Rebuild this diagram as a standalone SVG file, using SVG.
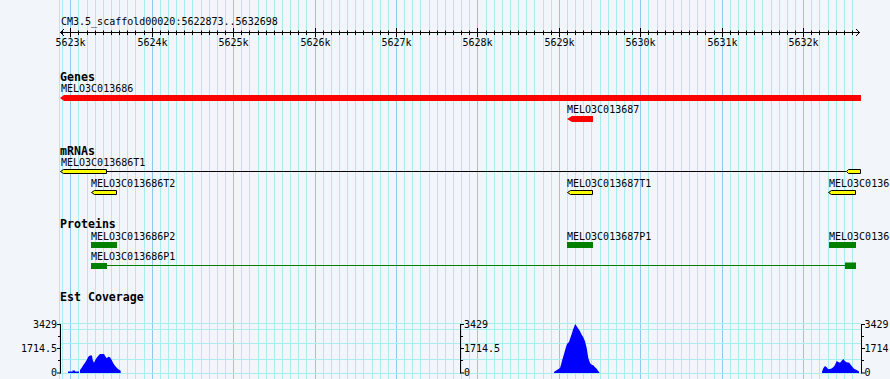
<svg xmlns="http://www.w3.org/2000/svg" width="890" height="379" viewBox="0 0 890 379">
<style>
.bg{fill:#f2f5fa}
.gm{stroke:#a6eef0;stroke-width:1}
.gM{stroke:#8ccbee;stroke-width:1}
.t{font-family:"DejaVu Sans Mono","Liberation Mono",monospace;font-size:10px;fill:#000}
.h{font-family:"DejaVu Sans Mono","Liberation Mono",monospace;font-size:11.6px;font-weight:bold;fill:#000}
.ax{stroke:#000;stroke-width:1;fill:none}
.gene{fill:#ff0000}
.mrna{fill:#ffff00;stroke:#000;stroke-width:1}
.prot{fill:#008000}
.intr{stroke:#000;stroke-width:1}
.pintr{stroke:#008000;stroke-width:1}
.cov{fill:#0000ff}
.hg{stroke:#a6eef0;stroke-width:1}
</style>
<rect class="bg" x="0" y="0" width="890" height="379"/>
<g id="grid">
<path class="gm" d="M59.5 0V379M62.5 0V379M78.5 0V379M87.5 0V379M95.5 0V379M103.5 0V379M111.5 0V379M119.5 0V379M127.5 0V379M135.5 0V379M144.5 0V379M160.5 0V379M168.5 0V379M176.5 0V379M184.5 0V379M192.5 0V379M201.5 0V379M209.5 0V379M217.5 0V379M225.5 0V379M241.5 0V379M249.5 0V379M258.5 0V379M266.5 0V379M274.5 0V379M282.5 0V379M290.5 0V379M298.5 0V379M306.5 0V379M323.5 0V379M331.5 0V379M339.5 0V379M347.5 0V379M355.5 0V379M363.5 0V379M372.5 0V379M380.5 0V379M388.5 0V379M404.5 0V379M412.5 0V379M420.5 0V379M429.5 0V379M437.5 0V379M445.5 0V379M453.5 0V379M461.5 0V379M469.5 0V379M486.5 0V379M494.5 0V379M502.5 0V379M510.5 0V379M518.5 0V379M526.5 0V379M534.5 0V379M543.5 0V379M551.5 0V379M567.5 0V379M575.5 0V379M583.5 0V379M591.5 0V379M600.5 0V379M608.5 0V379M616.5 0V379M624.5 0V379M632.5 0V379M648.5 0V379M657.5 0V379M665.5 0V379M673.5 0V379M681.5 0V379M689.5 0V379M697.5 0V379M705.5 0V379M714.5 0V379M730.5 0V379M738.5 0V379M746.5 0V379M754.5 0V379M762.5 0V379M771.5 0V379M779.5 0V379M787.5 0V379M795.5 0V379M811.5 0V379M819.5 0V379M828.5 0V379M836.5 0V379M844.5 0V379M852.5 0V379"/>
<path class="gM" d="M70.5 0V379M152.5 0V379M233.5 0V379M315.5 0V379M396.5 0V379M477.5 0V379M559.5 0V379M640.5 0V379M722.5 0V379M803.5 0V379"/>
<path class="hg" d="M60 323.5H861M60 329.5H861M60 343.5H861M60 359.5H861M60 373.5H861"/>
</g>
<g id="ruler">
<text class="t" x="61" y="25">CM3.5_scaffold00020:5622873..5632698</text>
<path class="ax" d="M60 32.5H860M64 29L60.5 32.5L64 36M856 29L859.5 32.5L856 36"/>
<path class="ax" d="M62.5 30.5V35M78.5 30.5V35M87.5 30.5V35M95.5 30.5V35M103.5 30.5V35M111.5 30.5V35M119.5 30.5V35M127.5 30.5V35M135.5 30.5V35M144.5 30.5V35M160.5 30.5V35M168.5 30.5V35M176.5 30.5V35M184.5 30.5V35M192.5 30.5V35M201.5 30.5V35M209.5 30.5V35M217.5 30.5V35M225.5 30.5V35M241.5 30.5V35M249.5 30.5V35M258.5 30.5V35M266.5 30.5V35M274.5 30.5V35M282.5 30.5V35M290.5 30.5V35M298.5 30.5V35M306.5 30.5V35M323.5 30.5V35M331.5 30.5V35M339.5 30.5V35M347.5 30.5V35M355.5 30.5V35M363.5 30.5V35M372.5 30.5V35M380.5 30.5V35M388.5 30.5V35M404.5 30.5V35M412.5 30.5V35M420.5 30.5V35M429.5 30.5V35M437.5 30.5V35M445.5 30.5V35M453.5 30.5V35M461.5 30.5V35M469.5 30.5V35M486.5 30.5V35M494.5 30.5V35M502.5 30.5V35M510.5 30.5V35M518.5 30.5V35M526.5 30.5V35M534.5 30.5V35M543.5 30.5V35M551.5 30.5V35M567.5 30.5V35M575.5 30.5V35M583.5 30.5V35M591.5 30.5V35M600.5 30.5V35M608.5 30.5V35M616.5 30.5V35M624.5 30.5V35M632.5 30.5V35M648.5 30.5V35M657.5 30.5V35M665.5 30.5V35M673.5 30.5V35M681.5 30.5V35M689.5 30.5V35M697.5 30.5V35M705.5 30.5V35M714.5 30.5V35M730.5 30.5V35M738.5 30.5V35M746.5 30.5V35M754.5 30.5V35M762.5 30.5V35M771.5 30.5V35M779.5 30.5V35M787.5 30.5V35M795.5 30.5V35M811.5 30.5V35M819.5 30.5V35M828.5 30.5V35M836.5 30.5V35M844.5 30.5V35M852.5 30.5V35"/>
<path class="ax" d="M70.5 28V37M152.5 28V37M233.5 28V37M315.5 28V37M396.5 28V37M477.5 28V37M559.5 28V37M640.5 28V37M722.5 28V37M803.5 28V37"/>
<g class="t" text-anchor="middle">
<text x="70.5" y="45.5">5623k</text>
<text x="152.5" y="45.5">5624k</text>
<text x="233.5" y="45.5">5625k</text>
<text x="315.5" y="45.5">5626k</text>
<text x="396.5" y="45.5">5627k</text>
<text x="477.5" y="45.5">5628k</text>
<text x="559.5" y="45.5">5629k</text>
<text x="640.5" y="45.5">5630k</text>
<text x="722.5" y="45.5">5631k</text>
<text x="803.5" y="45.5">5632k</text>
</g>
</g>
<g id="track-genes">
<text class="h" x="60" y="80.5">Genes</text>
<g id="gene-MELO3C013686">
<text class="t" x="61" y="92">MELO3C013686</text>
<polygon class="gene" points="60,98 64,95 861,95 861,101 64,101"/>
</g>
<g id="gene-MELO3C013687">
<text class="t" x="567" y="113">MELO3C013687</text>
<polygon class="gene" points="567,119 572,116 593,116 593,122 572,122"/>
</g>
</g>
<g id="connectors">
<path class="intr" d="M106.5 171.5H846"/>
<path class="pintr" d="M107 265.5H845"/>
</g>
<g id="track-mrnas">
<text class="h" x="60" y="154.5">mRNAs</text>
<g id="mrna-MELO3C013686T1">
<text class="t" x="61" y="166">MELO3C013686T1</text>
<polygon class="mrna" points="60.5,171.5 63.5,169.5 106.5,169.5 106.5,173.5 63.5,173.5"/>
<polygon class="mrna" points="846.5,171.5 848.5,169.5 860.5,169.5 860.5,173.5 848.5,173.5"/>
</g>
<g id="mrna-MELO3C013686T2">
<text class="t" x="91" y="187">MELO3C013686T2</text>
<polygon class="mrna" points="91.5,192.5 94.5,190.5 116.5,190.5 116.5,194.5 94.5,194.5"/>
</g>
<g id="mrna-MELO3C013687T1">
<text class="t" x="567" y="187">MELO3C013687T1</text>
<polygon class="mrna" points="567.5,192.5 570.5,190.5 592.5,190.5 592.5,194.5 570.5,194.5"/>
</g>
<g id="mrna-right">
<text class="t" x="829" y="187">MELO3C01368</text>
<polygon class="mrna" points="828.5,192.5 831.5,190.5 855.5,190.5 855.5,194.5 831.5,194.5"/>
</g>
</g>
<g id="track-proteins">
<text class="h" x="60" y="227.5">Proteins</text>
<g id="prot-MELO3C013686P2">
<text class="t" x="91" y="239.5">MELO3C013686P2</text>
<rect class="prot" x="91" y="242" width="26" height="6"/>
</g>
<g id="prot-MELO3C013686P1">
<text class="t" x="91" y="260">MELO3C013686P1</text>
<rect class="prot" x="91" y="263" width="16" height="6"/>
<rect class="prot" x="845" y="262.5" width="11" height="6.5"/>
</g>
<g id="prot-MELO3C013687P1">
<text class="t" x="567" y="239.5">MELO3C013687P1</text>
<rect class="prot" x="567" y="242" width="26" height="6"/>
</g>
<g id="prot-right">
<text class="t" x="829" y="239.5">MELO3C01368</text>
<rect class="prot" x="829" y="242" width="27" height="6"/>
</g>
</g>
<g id="track-coverage">
<text class="h" x="60" y="300.5">Est Coverage</text>
<g id="axis-left">
<path class="ax" d="M60.5 324V373.5M57 324.5H60.5M58 336.5H60.5M57 348.5H60.5M58 360.5H60.5M57 373H60.5"/>
<g class="t" text-anchor="end">
<text x="57" y="327.5">3429</text>
<text x="57" y="352">1714.5</text>
<text x="57" y="376">0</text>
</g>
</g>
<g id="axis-mid">
<path class="ax" d="M460.5 324V373.5M460.5 324.5H464M460.5 336.5H463M460.5 348.5H464M460.5 360.5H463M460.5 373H464"/>
<g class="t">
<text x="464" y="327.5">3429</text>
<text x="464" y="352">1714.5</text>
<text x="464" y="376">0</text>
</g>
</g>
<g id="axis-right">
<path class="ax" d="M861.5 324V373.5M861.5 324.5H865M861.5 336.5H864M861.5 348.5H865M861.5 360.5H864M861.5 373H865"/>
<g class="t">
<text x="864.5" y="327.5">3429</text>
<text x="864.5" y="352">1714</text>
<text x="864.5" y="376">0</text>
</g>
</g>
<polygon class="cov" points="68,373 68,371.5 72.5,371.5 72.5,370.5 75,370.5 75,371.5 79,371.5 79,373 80,373 80,370 81.7,367.7 83.3,365 85,362.7 86.7,360 88.3,356.7 90,355.5 92,355.5 92.7,360 94,362.7 95.3,360 96.7,357.7 98.3,355.7 100,354 104,354 105,355.7 106.7,358.3 108.3,356.7 110,357.3 111.7,360 113.3,363.3 115,365.7 116.7,367.7 118.3,369.3 120.7,370.7 120.7,373"/>
<polygon class="cov" points="554,373 554,372 555,371.3 557.3,369.7 560,368 561,364.7 562.3,359.7 564.3,353 565.7,348 567,344 569,342 570.3,338 571.7,334 573,329.7 574.3,326.3 575.3,324 576.7,326.3 578.3,328.7 580,331.3 581.7,334.7 583.3,337.3 585,341.3 586.7,348 588.3,358 590,363 591.7,364.7 593.3,365.3 595,367.3 596.7,368.7 598.3,371.3 599.3,372 599.3,373"/>
<polygon class="cov" points="822,373 822,371.7 823.3,368.3 825,366 826.7,367.3 828.3,369.3 831,368.7 833.3,367.3 835,365 836.7,361 838.3,362 840,362.7 841.7,360.7 843.3,359 845,361.3 846.7,362.3 849.3,362.7 851.7,366 854,368.7 856.7,370 859,371.5 859,373"/>
</g>
</svg>
